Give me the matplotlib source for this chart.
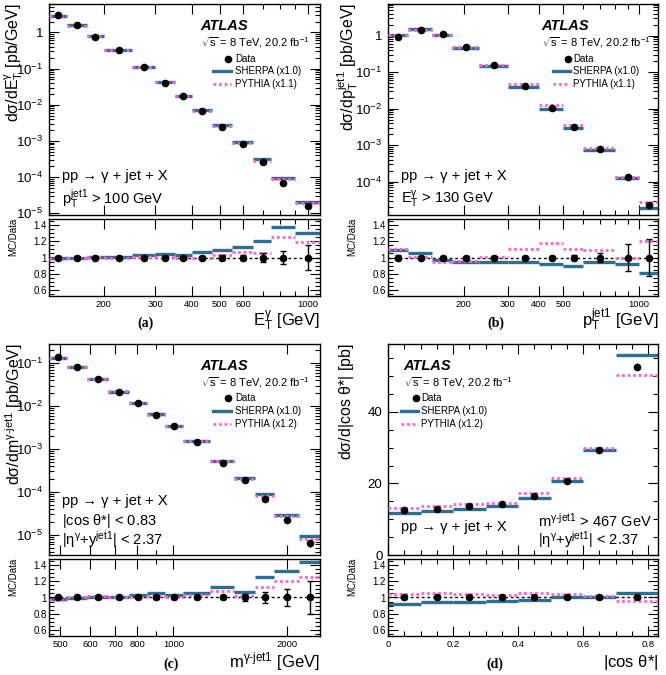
import numpy as np
import matplotlib
matplotlib.use("Agg")
import matplotlib.pyplot as plt
from matplotlib.lines import Line2D
from matplotlib.ticker import (FixedLocator, NullFormatter, FuncFormatter,
                               LogLocator, MultipleLocator)

# ---------------- data ----------------
# (a) photon ET
a_edges = [130, 150, 175, 200, 250, 300, 350, 400, 470, 550, 650, 750, 900, 1100]
a_data = [2.96, 1.56, 0.77, 0.32, 0.109, 0.041, 0.0174, 0.0069, 0.0025,
          8.3e-4, 2.6e-4, 6.9e-5, 1.6e-5]
a_sherpa_ratio = [0.99, 1.00, 1.01, 1.01, 1.025, 1.045, 1.035, 1.07, 1.09,
                  1.13, 1.20, 1.375, 1.31]
a_pythia_ratio = [0.98, 0.99, 1.01, 1.00, 1.01, 1.01, 0.99, 1.00, 1.035,
                  1.065, 1.06, 1.25, 1.19]
a_err = [0.02, 0.02, 0.02, 0.02, 0.02, 0.02, 0.02, 0.02, 0.025, 0.03,
         0.05, 0.085, 0.15]
a_xticks = [200, 300, 400, 500, 600, 1000]

# (b) leading-jet pT
b_edges = [100, 120, 150, 180, 230, 300, 400, 500, 600, 800, 1000, 1200]
b_data = [0.94, 1.43, 1.09, 0.50, 0.16, 0.042, 0.0107, 0.0032, 7.9e-4,
          1.38e-4, 2.3e-5]
b_sherpa_ratio = [1.09, 1.05, 0.975, 0.95, 0.94, 0.94, 0.92, 0.90, 0.95,
                  0.92, 0.81]
b_pythia_ratio = [1.10, 1.01, 0.95, 0.96, 1.01, 1.10, 1.175, 1.10, 1.09,
                  0.99, 1.20]
b_err = [0.03, 0.02, 0.02, 0.02, 0.02, 0.02, 0.02, 0.03, 0.06, 0.17, 0.23]
b_xticks = [200, 300, 400, 500, 1000]

# (c) photon-jet invariant mass
c_edges = [467, 520, 590, 670, 760, 850, 950, 1060, 1250, 1450, 1650, 1850,
           2150, 2450]
c_data = [0.138, 0.081, 0.0425, 0.0219, 0.0117, 0.00618, 0.00336, 0.00146,
          4.8e-4, 1.93e-4, 7.0e-5, 2.25e-5, 6.5e-6]
c_sherpa_ratio = [0.98, 0.99, 1.01, 1.00, 1.03, 1.05, 1.03, 1.06, 1.125,
                  1.07, 1.25, 1.325, 1.44]
c_pythia_ratio = [0.97, 1.01, 1.015, 1.01, 1.01, 1.015, 1.00, 1.03, 1.08,
                  1.02, 1.125, 1.21, 1.26]
c_err = [0.015, 0.015, 0.015, 0.015, 0.015, 0.015, 0.02, 0.02, 0.02, 0.04,
         0.07, 0.11, 0.2]
c_xticks = [500, 600, 700, 800, 1000, 2000]

# (d) |cos theta*|
d_edges = [0.0, 0.1, 0.2, 0.3, 0.4, 0.5, 0.6, 0.7, 0.83]
d_data = [12.7, 12.9, 13.8, 14.3, 16.6, 20.6, 29.3, 52.7]
d_sherpa_ratio = [0.925, 0.95, 0.94, 0.96, 0.965, 1.0, 1.0, 1.06]
d_pythia_ratio = [1.04, 1.06, 1.04, 1.025, 1.05, 1.04, 1.02, 0.955]
d_err = [0.015, 0.015, 0.015, 0.015, 0.015, 0.015, 0.015, 0.02]
d_xticks = [0, 0.2, 0.4, 0.6, 0.8]

ratio_yticks = [0.6, 0.8, 1.0, 1.2, 1.4]
pythia_labels = ["PYTHIA (x1.1)", "PYTHIA (x1.1)", "PYTHIA (x1.2)", "PYTHIA (x1.2)"]
sherpa_label = "SHERPA (x1.0)"

# ---------------- style ----------------
plt.rcParams["font.family"] = ["Liberation Sans", "DejaVu Sans"]
plt.rcParams["mathtext.fontset"] = "custom"
plt.rcParams["mathtext.rm"] = "Liberation Sans"
plt.rcParams["mathtext.it"] = "Liberation Sans:italic"
plt.rcParams["mathtext.bf"] = "Liberation Sans:bold"
plt.rcParams["mathtext.default"] = "regular"

BLUE = "#2f6e8f"
PINK = "#ff62cf"
PYDOT = (0, (1, 1))

W, H = 666.0, 675.0
fig = plt.figure(figsize=(6.66, 6.75), dpi=100)


def FX(p):
    return p / W


def FY(p):
    return 1.0 - p / H


def make_axes(l, r, t, b):
    return fig.add_axes([FX(l), FY(b), (r - l) / W, (b - t) / H])


def logfmt(v, pos):
    e = int(round(np.log10(v)))
    return "1" if e == 0 else r"$10^{%d}$" % e


gfmt = FuncFormatter(lambda v, p: "%g" % v)


def style(ax):
    ax.tick_params(which="both", direction="in", top=True, right=True, width=0.8)
    ax.tick_params(which="major", length=7)
    ax.tick_params(which="minor", length=3.5)
    for s in ax.spines.values():
        s.set_linewidth(1.0)


def txt(x, y, s, size, **kw):
    ha = kw.pop("ha", "left")
    va = kw.pop("va", "center")
    fig.text(FX(x), FY(y), s, fontsize=size, ha=ha, va=va, **kw)


def draw_panel(l, r, tm, bm, tr, br, edges, data, rs, rp, err, logx, xlim,
               ylim, logy, xticks):
    axm = make_axes(l, r, tm, bm)
    axr = make_axes(l, r, tr, br)
    edges = np.asarray(edges, float)
    lo, hi = edges[:-1], edges[1:]
    xc = 0.5 * (lo + hi)
    data = np.asarray(data, float)
    rs = np.asarray(rs, float)
    rp = np.asarray(rp, float)
    err = np.asarray(err, float)

    axm.hlines(data * rs, lo, hi, colors=BLUE, lw=2.4, zorder=2)
    axm.hlines(data * rp, lo, hi, colors=PINK, lw=2.0, linestyles=[PYDOT], zorder=3)
    axm.errorbar(xc, data, yerr=data * err, fmt="o", color="k", ms=4.5,
                 elinewidth=1, capsize=0, zorder=4)

    axr.axhline(1.0, color="k", lw=1, ls=(0, (2, 2)), zorder=1)
    axr.hlines(rs, lo, hi, colors=BLUE, lw=2.4, zorder=2)
    axr.hlines(rp, lo, hi, colors=PINK, lw=2.0, linestyles=[PYDOT], zorder=3)
    axr.errorbar(xc, np.ones_like(xc), yerr=err, fmt="o", color="k", ms=4.5,
                 elinewidth=1, capsize=2, capthick=1, zorder=4)

    for ax in (axm, axr):
        style(ax)
        if logx:
            ax.set_xscale("log")
            ax.xaxis.set_major_locator(FixedLocator(xticks))
            ax.xaxis.set_minor_locator(LogLocator(base=10, subs=np.arange(1, 10), numticks=50))
            ax.xaxis.set_minor_formatter(NullFormatter())
        else:
            ax.xaxis.set_major_locator(FixedLocator(xticks))
            ax.xaxis.set_minor_locator(MultipleLocator(0.05))
        ax.set_xlim(xlim)
    axm.xaxis.set_major_formatter(NullFormatter())
    axr.xaxis.set_major_formatter(gfmt)
    axr.tick_params(axis="x", which="major", labelsize=6.8, pad=3)

    if logy:
        axm.set_yscale("log")
        axm.yaxis.set_major_locator(LogLocator(base=10, numticks=20))
        axm.yaxis.set_minor_locator(LogLocator(base=10, subs=np.arange(2, 10), numticks=20))
        axm.yaxis.set_minor_formatter(NullFormatter())
        axm.yaxis.set_major_formatter(FuncFormatter(logfmt))
    else:
        axm.yaxis.set_major_locator(MultipleLocator(20))
        axm.yaxis.set_minor_locator(MultipleLocator(5))
        axm.yaxis.set_major_formatter(gfmt)
    axm.set_ylim(ylim)
    axm.tick_params(axis="y", which="major", labelsize=9.5, pad=4)

    axr.set_ylim(0.52, 1.48)
    axr.yaxis.set_major_locator(FixedLocator(ratio_yticks))
    axr.yaxis.set_minor_locator(MultipleLocator(0.05))
    axr.yaxis.set_major_formatter(gfmt)
    axr.tick_params(axis="y", which="major", labelsize=7, pad=1.5)
    return axm, axr


def legend(xm, xl0, xl1, xt, y0, dy, pyt):
    fig.add_artist(Line2D([FX(xm)], [FY(y0)], marker="o", color="k", ms=4.5, ls="none"))
    txt(xt, y0, "Data", 7)
    fig.add_artist(Line2D([FX(xl0), FX(xl1)], [FY(y0 + dy)] * 2, color=BLUE, lw=2.4))
    txt(xt, y0 + dy, sherpa_label, 7)
    fig.add_artist(Line2D([FX(xl0), FX(xl1)], [FY(y0 + 2 * dy)] * 2, color=PINK,
                          lw=2.0, ls=PYDOT))
    txt(xt, y0 + 2 * dy, pyt, 7)


def atlas(x, y):
    txt(x, y, "ATLAS", 10.5, fontweight="bold", fontstyle="italic")
    txt(x + 1, y + 17, r"$\sqrt{s}$ = 8 TeV, 20.2 fb$^{-1}$", 8)


# ---------------- panels ----------------
draw_panel(49, 320, 4, 215, 219, 296, a_edges, a_data, a_sherpa_ratio,
           a_pythia_ratio, a_err, True, (130, 1100), (9e-6, 6.1), True, a_xticks)
draw_panel(388, 658, 4, 215, 219, 296, b_edges, b_data, b_sherpa_ratio,
           b_pythia_ratio, b_err, True, (100, 1190), (1.22e-5, 7.4), True, b_xticks)
draw_panel(49, 320, 344, 555, 559, 636, c_edges, c_data, c_sherpa_ratio,
           c_pythia_ratio, c_err, True, (467, 2450), (3.4e-6, 0.28), True, c_xticks)
draw_panel(388, 658, 344, 555, 559, 636, d_edges, d_data, d_sherpa_ratio,
           d_pythia_ratio, d_err, False, (0, 0.83), (0, 59), False, d_xticks)

# y labels
YL = 11.5
txt(14, 3, r"d$\sigma$/d$E_{T}^{\gamma}$ [pb/GeV]", YL, rotation=90, ha="center", va="top")
txt(348, 3, r"d$\sigma$/d$p_{T}^{jet1}$ [pb/GeV]", YL, rotation=90, ha="center", va="top")
txt(14, 343, r"d$\sigma$/d$m^{\gamma\text{-}jet1}$ [pb/GeV]", YL, rotation=90, ha="center", va="top")
txt(347, 343, r"d$\sigma$/d|cos $\theta$*| [pb]", YL, rotation=90, ha="center", va="top")
for (x, y) in [(13, 218), (352, 218), (13, 558), (352, 558)]:
    txt(x, y, "MC/Data", 7, rotation=90, ha="center", va="top")

# x labels
XL = 12
txt(320, 326, r"$E_{T}^{\gamma}$ [GeV]", XL, ha="right", va="baseline")
txt(658, 326, r"$p_{T}^{jet1}$ [GeV]", XL, ha="right", va="baseline")
txt(320, 667, r"$m^{\gamma\text{-}jet1}$ [GeV]", XL, ha="right", va="baseline")
txt(658, 667, r"|cos $\theta$*|", XL, ha="right", va="baseline")

# panel letters
for (x, y, s) in [(145, 323, "(a)"), (496, 323, "(b)"), (171, 664, "(c)"), (495, 664, "(d)")]:
    txt(x, y, s, 10, ha="center", family="Liberation Serif", fontweight="bold")

# ATLAS labels and legends
atlas(200, 26)
legend(228, 213, 231, 235, 58.7, 12.7, pythia_labels[0])
atlas(541, 26)
legend(568, 553, 570, 573, 58.5, 12.9, pythia_labels[1])
atlas(200, 366)
legend(228, 213, 231, 235, 398.3, 13.0, pythia_labels[2])
atlas(403, 366)
legend(416, 401, 418, 421, 398, 13.0, pythia_labels[3])

# selection texts
proc = "pp \u2192 \u03b3 + jet + X"
txt(62, 176, proc, 10.5)
txt(62, 199, r"$p_{T}^{jet1}$ > 100 GeV", 10.5)
txt(401, 176, proc, 10.5)
txt(401, 199, r"$E_{T}^{\gamma}$ > 130 GeV", 10.5)
txt(62, 501, proc, 10.5)
txt(62, 521, r"|cos $\theta$*| < 0.83", 10.5)
txt(62, 540, r"$|\eta^{\gamma}$+$y^{jet1}|$ < 2.37", 10.5)
txt(401, 527, proc, 10.5)
txt(538, 521, r"$m^{\gamma\text{-}jet1}$ > 467 GeV", 10.5)
txt(538, 540, r"$|\eta^{\gamma}$+$y^{jet1}|$ < 2.37", 10.5)

fig.savefig("out.png", dpi=100)
